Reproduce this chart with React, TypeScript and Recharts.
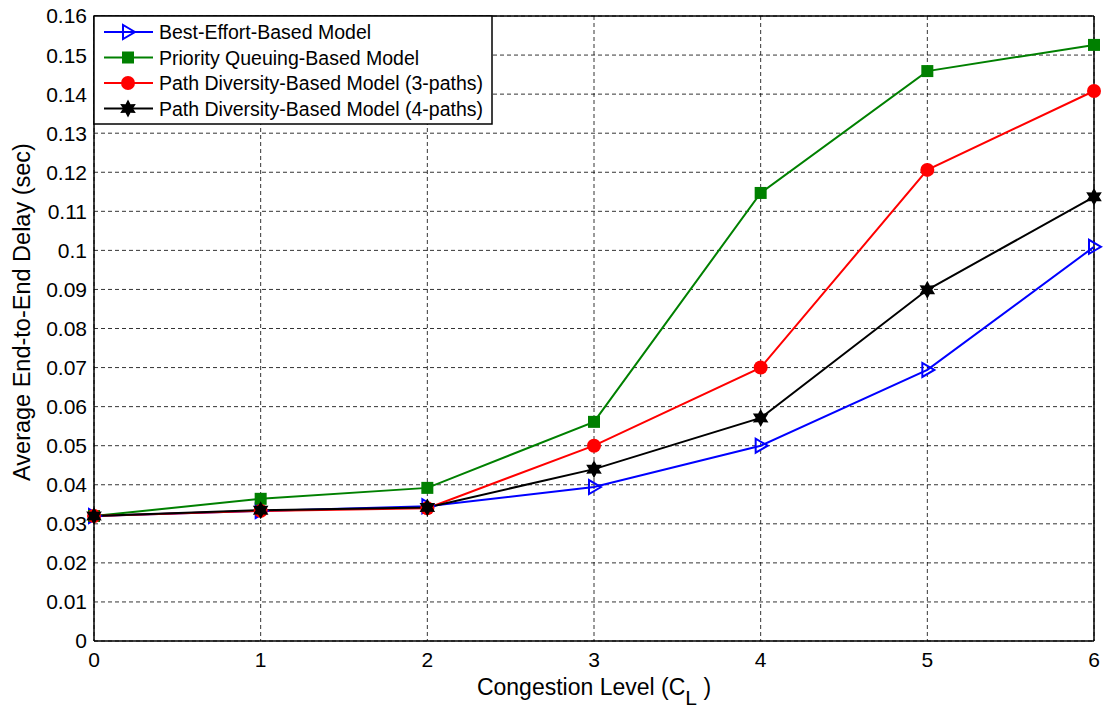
import { LineChart, Line, XAxis, YAxis, CartesianGrid, ReferenceLine, Label } from 'recharts';

// congestion level on x, delay (sec) per model
const congestion = [0, 1, 2, 3, 4, 5, 6];
const bestEffort = [0.032, 0.0333, 0.0345, 0.0394, 0.05, 0.0694, 0.1009];
const priorityQueuing = [0.032, 0.0364, 0.0392, 0.0561, 0.1147, 0.1459, 0.1526];
const pathDiversity3 = [0.032, 0.0333, 0.034, 0.05, 0.07, 0.1206, 0.1408];
const pathDiversity4 = [0.032, 0.0335, 0.0342, 0.044, 0.0571, 0.0899, 0.1137];

const xTicks = [0, 1, 2, 3, 4, 5, 6];
const yTicks = [0, 0.01, 0.02, 0.03, 0.04, 0.05, 0.06, 0.07, 0.08, 0.09, 0.1, 0.11, 0.12, 0.13, 0.14, 0.15, 0.16];

const seriesNames = [
  'Best-Effort-Based Model',
  'Priority Queuing-Based Model',
  'Path Diversity-Based Model (3-paths)',
  'Path Diversity-Based Model (4-paths)',
];

const data = congestion.map((c, i) => ({
  cl: c,
  be: bestEffort[i],
  pq: priorityQueuing[i],
  pd3: pathDiversity3[i],
  pd4: pathDiversity4[i],
}));

const FONT = '"Liberation Sans", Arial, sans-serif';

const Triangle = ({ cx, cy }: any) => (
  <path d={`M${cx + 7},${cy} L${cx - 5},${cy - 7} L${cx - 5},${cy + 7} Z`} fill="none" stroke="#0000FF" strokeWidth={2} />
);
const Square = ({ cx, cy }: any) => <rect x={cx - 6} y={cy - 6} width={12} height={12} fill="#008000" />;
const Circle = ({ cx, cy }: any) => <circle cx={cx} cy={cy} r={7} fill="#FF0000" />;
const Star = ({ cx, cy }: any) => {
  const pts: string[] = [];
  for (let k = 0; k < 12; k++) {
    const r = k % 2 === 0 ? 9 : 5;
    const a = ((-90 + k * 30) * Math.PI) / 180;
    pts.push(`${cx + r * Math.cos(a)},${cy + r * Math.sin(a)}`);
  }
  return <polygon points={pts.join(' ')} fill="#000" />;
};

const markers = [Triangle, Square, Circle, Star];
const colors = ['#0000FF', '#008000', '#FF0000', '#000000'];
const keys = ['be', 'pq', 'pd3', 'pd4'];

const dotFor = (i: number) => (p: any) => {
  const M = markers[i];
  return <M key={`${keys[i]}-${p.index}`} cx={p.cx} cy={p.cy} />;
};

const XTitle = ({ viewBox }: any) => {
  const x = viewBox.x + viewBox.width / 2;
  return (
    <text x={x} y={695} textAnchor="middle" fontFamily={FONT} fontSize={23} fill="#000">
      <tspan>Congestion Level (C</tspan>
      <tspan dy={10} fontSize={21}>L</tspan>
      <tspan dy={-10}> )</tspan>
    </text>
  );
};

const YTitle = () => (
  <text
    x={22}
    y={312}
    transform="rotate(-90, 22, 312)"
    textAnchor="middle"
    dominantBaseline="central"
    fontFamily={FONT}
    fontSize={23.5}
    fill="#000"
  >
    Average End-to-End Delay (sec)
  </text>
);

const LegendBox = () => (
  <svg width={400} height={110} style={{ position: 'absolute', left: 93, top: 15 }}>
    <rect x={1} y={1} width={398} height={108} fill="#fff" stroke="#000" strokeWidth={1.5} />
    {seriesNames.map((name, i) => {
      const y = 17 + i * 25.5;
      const M = markers[i];
      return (
        <g key={name}>
          <line x1={11} x2={60} y1={y} y2={y} stroke={colors[i]} strokeWidth={2} />
          <M cx={35} cy={y} />
          <text x={66} y={y + 7} fontFamily={FONT} fontSize={19.5} fill="#000">{name}</text>
        </g>
      );
    })}
  </svg>
);

export default function App() {
  return (
    <div style={{ position: 'absolute', left: 0, top: 0, width: 1107, height: 708, background: '#fff' }}>
      <LineChart width={1107} height={708} data={data} margin={{ top: 16, right: 13, bottom: 0, left: 0 }}>
        <CartesianGrid stroke="#000" strokeDasharray="4 3" strokeWidth={0.8} />
        <XAxis
          dataKey="cl"
          type="number"
          domain={[0, 6]}
          ticks={xTicks}
          height={67}
          tickLine={false}
          tickMargin={5}
          axisLine={{ stroke: '#000', strokeWidth: 1.5 }}
          tick={{ fill: '#000', fontSize: 21, fontFamily: FONT }}
        >
          <Label content={<XTitle />} />
        </XAxis>
        <YAxis
          type="number"
          domain={[0, 0.16]}
          ticks={yTicks}
          width={94}
          tickLine={false}
          tickMargin={1}
          interval={0}
          axisLine={{ stroke: '#000', strokeWidth: 1.5 }}
          tick={{ fill: '#000', fontSize: 21, fontFamily: FONT }}
          tickFormatter={(v: number) => String(v)}
        >
          <Label content={<YTitle />} />
        </YAxis>
        <ReferenceLine y={0.16} stroke="#000" strokeWidth={1.5} />
        <ReferenceLine x={6} stroke="#000" strokeWidth={1.5} />
        {keys.map((k, i) => (
          <Line
            key={k}
            dataKey={k}
            type="linear"
            stroke={colors[i]}
            strokeWidth={2}
            dot={dotFor(i)}
            activeDot={false}
            isAnimationActive={false}
          />
        ))}
      </LineChart>
      <LegendBox />
    </div>
  );
}
